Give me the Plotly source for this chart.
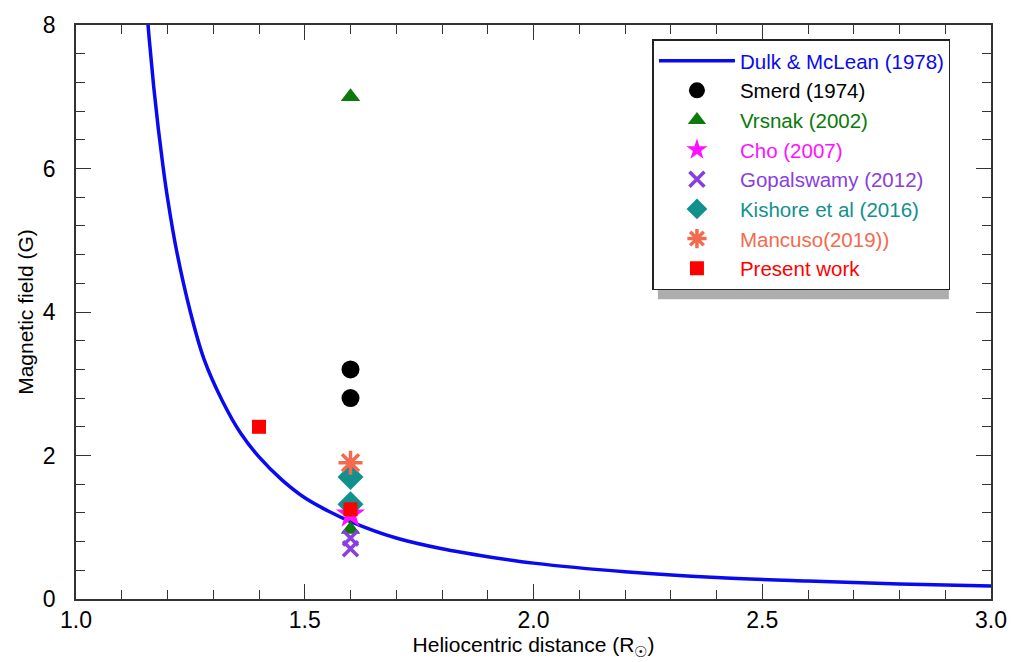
import plotly.graph_objects as go

# Dulk & McLean (1978) curve
dm_r = [1.15, 1.16, 1.17, 1.18, 1.19, 1.20, 1.22, 1.25, 1.28, 1.32, 1.36, 1.40, 1.45, 1.50,
        1.55, 1.60, 1.70, 1.80, 1.90, 2.00, 2.20, 2.40, 2.60, 2.80, 3.00]
dm_b = [8.61, 7.81, 7.13, 6.55, 6.04, 5.59, 4.85, 4.00, 3.34, 2.76, 2.31, 1.98, 1.66, 1.41,
        1.23, 1.08, 0.85, 0.70, 0.59, 0.50, 0.38, 0.30, 0.25, 0.21, 0.18]

smerd_r = [1.6, 1.6]
smerd_b = [3.2, 2.8]
vrsnak_r = [1.6, 1.6]
vrsnak_b = [7.0, 0.97]
cho_r = [1.6]
cho_b = [1.18]
gopal_r = [1.6, 1.6]
gopal_b = [0.85, 0.70]
kishore_r = [1.6, 1.6]
kishore_b = [1.7, 1.32]
mancuso_r = [1.6]
mancuso_b = [1.9]
present_r = [1.4, 1.6]
present_b = [2.4, 1.25]

FONT = "Liberation Sans, Arial, Helvetica"

def lab(txt, col):
    return f"<span style='color:{col}'>{txt}</span>"

fig = go.Figure()
fig.add_trace(go.Scatter(x=dm_r, y=dm_b, mode="lines", line=dict(color="#0a0af0", width=3.5, shape="spline"),
                         name=lab("Dulk &amp; McLean (1978)", "#0a0af0")))
fig.add_trace(go.Scatter(x=smerd_r, y=smerd_b, mode="markers",
                         marker=dict(symbol="circle", size=18, color="black"),
                         name=lab("Smerd (1974)", "black")))
fig.add_trace(go.Scatter(x=vrsnak_r, y=vrsnak_b, mode="markers",
                         marker=dict(symbol="triangle-up", size=17, color="#0a7a0a"),
                         name=lab("Vrsnak (2002)", "#0a7a0a")))
fig.add_trace(go.Scatter(x=cho_r, y=cho_b, mode="markers",
                         marker=dict(symbol="star", size=22, color="#ff10ff"),
                         name=lab("Cho (2007)", "#ff10ff")))
fig.add_trace(go.Scatter(x=gopal_r, y=gopal_b, mode="markers",
                         marker=dict(symbol="x-thin", size=15, line=dict(color="#8a3ee0", width=3.5), color="#8a3ee0"),
                         name=lab("Gopalswamy (2012)", "#8a3ee0")))
fig.add_trace(go.Scatter(x=kishore_r, y=kishore_b, mode="markers",
                         marker=dict(symbol="diamond", size=20, color="#12908e"),
                         name=lab("Kishore et al (2016)", "#12908e")))
fig.add_trace(go.Scatter(x=mancuso_r, y=mancuso_b, mode="markers",
                         marker=dict(symbol="asterisk", size=20, line=dict(color="#f46a4e", width=3.5), color="#f46a4e"),
                         name=lab("Mancuso(2019))", "#f46a4e")))
fig.add_trace(go.Scatter(x=present_r, y=present_b, mode="markers",
                         marker=dict(symbol="square", size=14, color="#ff0000"),
                         name=lab("Present work", "#ff0000")))

axis_common = dict(showline=True, linecolor="#333", linewidth=1.5, mirror="allticks",
                   ticks="inside", ticklen=15, tickwidth=1.2, tickcolor="#333",
                   showgrid=False, zeroline=False,
                   tickfont=dict(family=FONT, size=23, color="black"))

fig.update_xaxes(range=[1.0, 3.0], dtick=0.5, tickformat=".1f",
                 minor=dict(dtick=0.1, ticks="inside", ticklen=9, tickcolor="#333", tickwidth=1.2),
                 title=dict(text="Heliocentric distance (R<sub>☉</sub>)",
                            font=dict(family=FONT, size=21, color="black"), standoff=0),
                 **axis_common)
fig.update_yaxes(range=[0, 8], dtick=2, ticklabelstandoff=14,
                 minor=dict(dtick=0.4, ticks="inside", ticklen=9, tickcolor="#333", tickwidth=1.2),
                 title=dict(text="Magnetic field (G)",
                            font=dict(family=FONT, size=21, color="black"), standoff=4),
                 **axis_common)

fig.update_layout(
    width=1019, height=662,
    margin=dict(l=76, r=21, t=15, b=63),
    plot_bgcolor="white", paper_bgcolor="white",
    showlegend=True,
    legend=dict(x=0.63, y=0.975, xanchor="left", yanchor="top",
                bgcolor="white", bordercolor="#222", borderwidth=1.5,
                font=dict(family=FONT, size=20.5, color="black"),
                itemwidth=76, tracegroupgap=2),
    shapes=[dict(type="rect", xref="paper", yref="paper", x0=0.636, x1=0.954, y0=0.522, y1=0.952,
                 fillcolor="#777", line=dict(width=0), layer="below", opacity=0.6)],
)

fig.write_html("out.html")
